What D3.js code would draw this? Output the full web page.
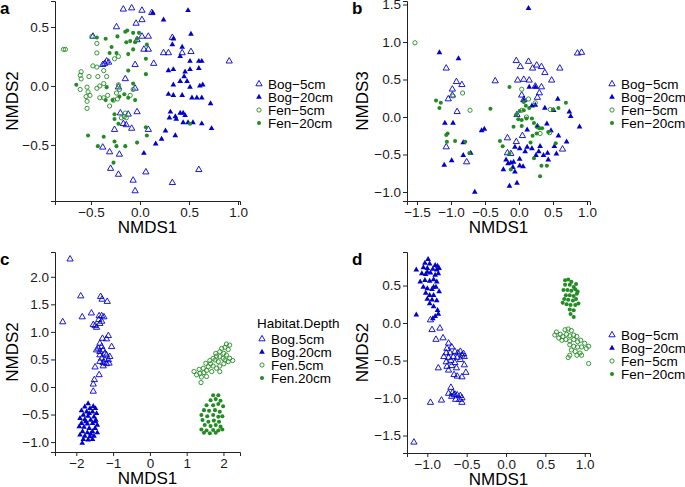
<!DOCTYPE html>
<html><head><meta charset="utf-8">
<script src="https://cdn.jsdelivr.net/npm/d3@7"></script>
<style>body{margin:0;background:#fff}svg{display:block;font-family:"Liberation Sans",Arial,sans-serif}</style>
</head><body><svg id="c" width="685" height="487"></svg>
<script>
// ---------- DATA ----------
const groupsDash = ["Bog\u22125cm","Bog\u221220cm","Fen\u22125cm","Fen\u221220cm"];
const groupsDot = ["Bog.5cm","Bog.20cm","Fen.5cm","Fen.20cm"];

// Panel a (NMDS1 vs NMDS2)
const aBog5 = [[-0.17,0.65],[-0.085,0.66],[0.02,0.64],[0.12,0.62],[-0.24,0.50],[-0.04,0.53],[0.02,0.56],[-0.48,0.42],[0.02,0.42],[0.085,0.42],[0.33,0.41],[0.24,0.28],[0.29,0.28],[0.43,0.28],[0.52,0.29],[-0.34,0.21],[-0.36,0.19],[-0.32,0.20],[-0.38,0.18],[0.14,0.19],[-0.05,0.18],[0.91,0.21],[-0.15,0.06],[-0.22,-0.01],[-0.05,-0.02],[-0.20,-0.23],[-0.12,-0.24],[-0.03,-0.22],[-0.17,-0.32],[-0.14,-0.33],[-0.085,-0.36],[0.085,-0.37],[-0.26,-0.37],[-0.38,-0.52],[-0.31,-0.56],[-0.21,-0.58],[-0.30,-0.70],[-0.22,-0.75],[0.06,-0.73],[-0.07,-0.80],[-0.05,-0.89],[0.33,-0.82],[0.60,-0.71],[0.04,0.31],[0.085,0.31],[-0.03,0.39]];
const aBog20 = [[0.13,0.62],[0.49,0.64],[0.24,0.56],[0.52,0.44],[0.34,0.40],[0.33,0.35],[0.43,0.33],[0.41,0.25],[0.51,0.21],[0.60,0.21],[0.63,0.21],[0.29,0.13],[0.34,0.14],[0.46,0.12],[0.51,0.14],[0.60,0.15],[0.45,0.08],[0.41,0.04],[0.48,0.04],[0.34,0.01],[0.64,0.01],[0.51,-0.01],[0.29,-0.07],[0.34,-0.08],[0.43,-0.08],[0.53,-0.10],[0.58,-0.10],[0.63,-0.10],[0.72,-0.15],[0.31,-0.22],[0.30,-0.27],[0.41,-0.23],[0.44,-0.23],[0.46,-0.25],[0.36,-0.26],[0.37,-0.28],[0.44,-0.31],[0.49,-0.31],[0.54,-0.31],[0.63,-0.32],[0.73,-0.36],[0.26,-0.38],[0.36,-0.42],[0.22,-0.45],[0.16,-0.49],[0.04,-0.57],[0.61,0.00]];
const aFen5 = [[-0.78,0.31],[-0.76,0.31],[-0.44,0.28],[-0.49,0.42],[-0.44,0.36],[-0.60,0.12],[-0.61,0.09],[-0.60,0.06],[-0.52,0.08],[-0.43,0.08],[-0.54,-0.01],[-0.61,-0.03],[-0.53,-0.05],[-0.51,-0.08],[-0.55,-0.09],[-0.54,-0.13],[-0.54,-0.19],[-0.44,-0.02],[-0.41,0.00],[-0.41,-0.10],[-0.37,-0.10],[-0.33,-0.08],[-0.31,-0.17],[-0.27,-0.12],[-0.23,-0.11],[-0.24,-0.06],[-0.21,-0.03],[-0.22,0.01],[-0.26,0.23],[-0.22,0.25],[-0.37,0.13],[-0.34,0.08],[-0.44,0.16],[-0.16,-0.26],[-0.19,-0.27],[-0.15,-0.23],[-0.07,-0.03],[-0.10,-0.08],[-0.48,0.17],[-0.37,0.02],[-0.14,-0.27]];
const aFen20 = [[-0.44,0.41],[-0.35,0.40],[-0.23,0.42],[-0.15,0.46],[-0.13,0.47],[-0.07,0.45],[-0.01,0.45],[-0.05,0.37],[-0.14,0.37],[-0.10,0.38],[-0.03,0.40],[0.07,0.35],[-0.29,0.33],[-0.31,0.28],[-0.24,0.28],[-0.12,0.27],[-0.07,0.31],[0.06,0.23],[-0.12,0.13],[0.06,0.10],[-0.65,0.01],[-0.34,-0.01],[-0.28,-0.12],[-0.21,-0.09],[-0.16,-0.07],[-0.12,-0.10],[-0.07,0.02],[-0.05,-0.12],[-0.35,-0.12],[-0.26,-0.24],[-0.26,-0.28],[-0.22,-0.32],[0.06,-0.35],[0.07,-0.42],[-0.03,-0.48],[-0.37,-0.43],[-0.53,-0.42],[-0.43,-0.51],[-0.26,-0.47],[-0.24,-0.51],[-0.15,-0.51],[-0.27,-0.65],[0.51,-0.32]];

// Panel b (NMDS1 vs NMDS3)
const bBog5 = [[-1.07,0.65],[-0.92,0.47],[-0.84,0.43],[-0.98,0.37],[-1.04,0.24],[-0.98,0.29],[-0.91,0.07],[-1.07,-0.40],[-0.77,-0.60],[-0.35,0.48],[-0.04,0.75],[0.02,0.67],[-0.02,0.49],[0.07,0.50],[0.14,0.74],[0.20,0.65],[0.15,0.49],[0.24,0.41],[0.33,0.40],[0.26,0.69],[0.33,0.67],[0.38,0.59],[0.48,0.49],[0.60,0.65],[0.04,0.29],[0.07,0.23],[0.30,0.32],[-0.03,0.03],[0.05,-0.25],[-0.17,-0.28],[-0.04,-0.33],[-0.17,-0.48],[-0.12,-0.49],[0.64,-0.43],[0.86,0.85],[0.92,0.86],[0.27,0.26]];
const bBog20 = [[-1.17,0.86],[-0.89,0.78],[-1.09,-0.08],[-0.97,-0.08],[-0.82,-0.34],[-0.71,-0.48],[-0.82,-0.51],[-0.99,-0.58],[-1.10,-0.64],[-0.65,-1.00],[-0.55,-0.18],[-0.51,-0.16],[0.14,1.45],[0.15,0.40],[0.24,0.40],[0.07,0.22],[0.19,0.15],[0.24,0.16],[0.38,0.12],[0.51,0.09],[0.57,0.24],[0.74,0.07],[0.76,0.01],[0.89,-0.13],[0.41,-0.09],[0.47,-0.18],[0.27,-0.12],[0.12,-0.17],[0.58,-0.25],[0.70,-0.33],[0.52,-0.39],[0.31,-0.39],[0.29,-0.46],[0.42,-0.48],[0.55,-0.49],[0.12,-0.40],[0.19,-0.42],[0.01,-0.42],[0.09,-0.46],[-0.06,-0.40],[-0.19,-0.57],[-0.16,-0.62],[-0.12,-0.61],[-0.08,-0.60],[0.01,-0.65],[0.06,-0.66],[-0.09,-0.67],[-0.23,-0.70],[-0.06,-0.73],[-0.14,-0.92],[-0.03,-0.88],[0.01,-0.56],[0.43,-0.57],[0.36,-0.51],[0.25,-0.51]];
const bFen5 = [[-1.53,0.99],[-0.97,0.28],[-0.83,0.32],[-0.72,0.09],[0.14,0.24],[0.24,0.19],[0.46,0.10],[0.27,-0.13],[0.45,-0.21],[0.04,0.37],[0.11,0.00],[0.31,-0.22],[0.04,0.09]];
const bFen20 = [[-1.22,0.22],[-1.15,0.19],[-1.17,0.12],[-1.05,-0.22],[-1.07,-0.24],[-1.06,-0.33],[-0.94,-0.32],[-0.79,-0.33],[-0.73,-0.48],[-0.42,0.11],[-0.14,0.40],[0.07,0.20],[0.10,0.15],[0.01,0.08],[0.07,0.09],[0.15,0.12],[-0.04,0.03],[-0.01,-0.03],[0.04,-0.04],[0.11,-0.02],[0.19,-0.02],[0.22,-0.08],[-0.08,-0.13],[0.04,-0.12],[0.30,-0.15],[0.34,-0.15],[0.20,-0.25],[0.26,-0.22],[0.43,-0.20],[0.50,0.10],[0.58,0.12],[0.69,0.19],[-0.28,-0.32],[-0.24,-0.39],[-0.14,-0.49],[-0.12,-0.70],[0.22,-0.55],[0.33,-0.65],[0.41,-0.65],[0.31,-0.79],[0.54,-0.35],[0.17,-0.34]];

// Panel c (NMDS1 vs NMDS2)
const cBog5 = [[-2.17,2.32],[-1.88,1.65],[-1.34,1.64],[-1.30,1.59],[-1.16,1.55],[-2.37,1.18],[-1.84,1.27],[-1.59,1.34],[-1.54,1.13],[-1.45,1.08],[-1.38,1.29],[-1.31,1.29],[-1.25,1.27],[-1.39,1.22],[-1.31,1.19],[-1.36,1.15],[-1.49,1.11],[-1.13,0.93],[-1.29,0.88],[-1.18,0.87],[-1.04,0.73],[-1.36,0.79],[-1.40,0.70],[-1.31,0.73],[-1.45,0.67],[-1.36,0.64],[-1.27,0.67],[-1.22,0.61],[-1.36,0.58],[-1.18,0.58],[-1.31,0.52],[-1.22,0.49],[-1.13,0.49],[-1.36,0.46],[-1.27,0.44],[-1.09,0.55],[-1.18,0.42],[-1.27,0.38],[-1.11,0.43],[-1.49,0.36],[-1.38,0.22],[-1.51,0.13],[-1.54,0.05],[-1.54,-0.08]];
const cBog20 = [[-1.68,-0.30],[-1.77,-0.36],[-1.54,-0.35],[-1.48,-0.39],[-1.63,-0.39],[-1.86,-0.43],[-1.72,-0.45],[-1.56,-0.45],[-1.45,-0.48],[-1.81,-0.51],[-1.68,-0.53],[-1.52,-0.54],[-1.90,-0.57],[-1.77,-0.59],[-1.61,-0.60],[-1.47,-0.60],[-1.86,-0.66],[-1.70,-0.67],[-1.56,-0.66],[-1.43,-0.69],[-1.92,-0.72],[-1.79,-0.73],[-1.65,-0.75],[-1.49,-0.75],[-1.83,-0.81],[-1.70,-0.83],[-1.56,-0.81],[-1.43,-0.83],[-1.90,-0.87],[-1.77,-0.89],[-1.63,-0.90],[-1.52,-0.89],[-1.81,-0.95],[-1.68,-0.96],[-1.56,-0.95],[-1.84,-1.02],[-1.61,-0.85],[-1.74,-0.63],[-1.49,-0.63],[-1.65,-0.48]];
const cFen5 = [[1.39,0.08],[1.20,0.28],[1.27,0.22],[1.36,0.25],[1.47,0.26],[1.54,0.30],[1.34,0.32],[1.45,0.34],[1.59,0.37],[1.65,0.42],[1.72,0.38],[1.52,0.43],[1.63,0.48],[1.77,0.49],[1.86,0.46],[1.72,0.52],[1.81,0.56],[1.90,0.55],[1.99,0.52],[1.79,0.61],[1.90,0.64],[2.01,0.61],[2.08,0.58],[1.95,0.70],[2.04,0.72],[2.13,0.68],[2.17,0.76],[2.08,0.78],[2.25,0.48],[2.13,0.46],[2.01,0.42],[1.90,0.38],[1.81,0.34],[2.04,0.49],[2.17,0.52],[1.54,0.19],[1.40,0.18],[1.68,0.28],[1.90,0.28]];
const cFen20 = [[1.72,-0.15],[1.86,-0.15],[1.65,-0.24],[1.79,-0.22],[1.92,-0.25],[1.54,-0.33],[1.72,-0.33],[1.86,-0.31],[1.99,-0.35],[1.47,-0.42],[1.61,-0.43],[1.77,-0.42],[1.90,-0.45],[1.40,-0.51],[1.56,-0.53],[1.72,-0.51],[1.86,-0.54],[1.97,-0.53],[1.43,-0.60],[1.59,-0.63],[1.74,-0.61],[1.88,-0.63],[1.49,-0.69],[1.65,-0.71],[1.79,-0.69],[1.92,-0.72],[1.40,-0.77],[1.54,-0.79],[1.72,-0.78],[1.86,-0.79],[1.97,-0.77],[1.47,-0.83],[1.63,-0.84],[1.79,-0.83]];

// Panel d (NMDS1 vs NMDS2)
const dBog5 = [[-0.96,0.04],[-0.94,-0.09],[-0.84,-0.07],[-0.89,-0.22],[-0.80,-0.20],[-1.17,-1.59],[-0.96,-1.06],[-0.82,-1.03],[-0.86,-0.60],[-0.73,-0.27],[-0.75,-0.34],[-0.69,-0.32],[-0.76,-0.40],[-0.71,-0.40],[-0.65,-0.38],[-0.61,-0.40],[-0.58,-0.38],[-0.54,-0.41],[-0.79,-0.45],[-0.73,-0.46],[-0.67,-0.45],[-0.62,-0.46],[-0.56,-0.43],[-0.53,-0.45],[-0.76,-0.52],[-0.70,-0.50],[-0.65,-0.53],[-0.58,-0.49],[-0.53,-0.56],[-0.75,-0.58],[-0.69,-0.57],[-0.63,-0.60],[-0.51,-0.66],[-0.66,-0.69],[-0.62,-0.71],[-0.56,-0.72],[-0.73,-0.63],[-0.70,-0.86],[-0.73,-0.94],[-0.68,-0.93],[-0.65,-0.95],[-0.62,-0.96],[-0.58,-0.97],[-0.56,-1.00],[-0.64,-1.02],[-0.59,-1.02],[-0.69,-0.98],[-0.66,-0.96],[-0.56,-1.06]];
const dBog20 = [[-1.14,0.71],[-1.14,0.11],[-0.99,0.85],[-1.03,0.80],[-0.97,0.79],[-0.90,0.77],[-0.87,0.76],[-1.05,0.74],[-1.00,0.73],[-0.93,0.72],[-0.88,0.71],[-0.85,0.73],[-1.07,0.66],[-1.02,0.65],[-0.96,0.67],[-0.90,0.64],[-0.86,0.66],[-1.09,0.55],[-1.03,0.57],[-0.97,0.56],[-0.92,0.58],[-0.88,0.55],[-1.05,0.48],[-1.00,0.46],[-0.94,0.45],[-0.89,0.48],[-0.85,0.42],[-1.02,0.40],[-0.97,0.37],[-0.92,0.37],[-1.00,0.32],[-0.94,0.31],[-0.88,0.30],[-0.97,0.26],[-0.92,0.22],[-0.87,0.17],[-0.90,0.09],[-0.86,0.12],[-0.93,0.06],[-1.00,0.68],[-0.92,0.48]];
const dFen5 = [[0.62,-0.16],[0.64,-0.12],[0.69,-0.15],[0.72,-0.18],[0.67,-0.20],[0.75,-0.09],[0.79,-0.08],[0.83,-0.10],[0.77,-0.15],[0.81,-0.17],[0.86,-0.16],[0.90,-0.18],[0.71,-0.23],[0.76,-0.22],[0.81,-0.24],[0.86,-0.22],[0.91,-0.25],[0.95,-0.23],[1.00,-0.27],[1.05,-0.31],[0.81,-0.29],[0.86,-0.31],[0.91,-0.32],[0.96,-0.32],[1.02,-0.34],[0.83,-0.36],[0.88,-0.38],[0.94,-0.40],[0.81,-0.43],[0.90,-0.43],[0.96,-0.43],[0.79,-0.46],[1.05,-0.54]];
const dFen20 = [[0.79,0.58],[0.83,0.55],[0.75,0.51],[0.81,0.51],[0.86,0.48],[0.89,0.52],[0.73,0.44],[0.78,0.44],[0.83,0.43],[0.88,0.45],[0.91,0.42],[0.76,0.37],[0.81,0.37],[0.86,0.36],[0.90,0.39],[0.74,0.32],[0.79,0.31],[0.85,0.30],[0.89,0.32],[0.77,0.25],[0.82,0.24],[0.88,0.24],[0.92,0.26],[0.81,0.18],[0.86,0.17],[0.82,0.12],[0.86,0.08],[0.75,0.57],[0.72,0.27]];

// Tick values
const aXTicks = [-0.5, 0, 0.5, 1.0], aYTicks = [-0.5, 0, 0.5];
const bXTicks = [-1.5, -1.0, -0.5, 0, 0.5, 1.0], bYTicks = [-1.0, -0.5, 0, 0.5, 1.0, 1.5];
const cXTicks = [-2, -1, 0, 1, 2], cYTicks = [-1.0, -0.5, 0, 0.5, 1.0, 1.5, 2.0];
const dXTicks = [-1.0, -0.5, 0, 0.5, 1.0], dYTicks = [-1.5, -1.0, -0.5, 0, 0.5];

// ---------- DRAW ----------
const svg = d3.select("#c");
const BLUE = "#0000CD", GREEN = "#228B22";
const styles = [
  {type: d3.symbolTriangle, size: 17, fill: "none", stroke: BLUE},
  {type: d3.symbolTriangle, size: 14, fill: BLUE, stroke: "none"},
  {type: d3.symbolCircle, size: 14, fill: "none", stroke: GREEN},
  {type: d3.symbolCircle, size: 13, fill: GREEN, stroke: "none"}
];

const panels = [
  {label: "a", box: [55, 240, 1, 201], xd: [-0.867, 1.02], yd: [-0.975, 0.72], xt: aXTicks, yt: aYTicks, xf: ".1f", yf: ".1f",
   ytitle: "NMDS2", ytx: 12, data: [aBog5, aBog20, aFen5, aFen20], legend: {x: 259, y: 84, names: groupsDash}},
  {label: "b", box: [407, 590, 1, 201], xd: [-1.647, 1.044], yd: [-1.12, 1.547], xt: bXTicks, yt: bYTicks, xf: ".1f", yf: ".1f",
   ytitle: "NMDS3", ytx: 362, data: [bBog5, bBog20, bFen5, bFen20], legend: {x: 612, y: 84, names: groupsDash}},
  {label: "c", box: [55, 240, 252, 452], xd: [-2.58, 2.45], yd: [-1.18, 2.45], xt: cXTicks, yt: cYTicks, xf: "d", yf: ".1f",
   ytitle: "NMDS2", ytx: 12, data: [cBog5, cBog20, cFen5, cFen20], legend: {x: 262, y: 339, names: groupsDot, title: "Habitat.Depth"}},
  {label: "d", box: [407, 590, 252, 453], xd: [-1.258, 1.067], yd: [-1.733, 0.947], xt: dXTicks, yt: dYTicks, xf: ".1f", yf: ".1f",
   ytitle: "NMDS2", ytx: 362, data: [dBog5, dBog20, dFen5, dFen20], legend: {x: 612, y: 335, names: groupsDash}}
];

panels.forEach(p => {
  const [l, r, t, b] = p.box;
  const x = d3.scaleLinear().domain(p.xd).range([l, r]);
  const y = d3.scaleLinear().domain(p.yd).range([b, t]);
  const g = svg.append("g");

  p.data.forEach((arr, gi) => {
    const s = styles[gi];
    const sym = d3.symbol().type(s.type).size(s.size);
    g.append("g").selectAll("path").data(arr).join("path")
      .attr("d", sym)
      .attr("transform", d => `translate(${x(d[0])},${y(d[1])})`)
      .attr("fill", s.fill).attr("stroke", s.stroke).attr("stroke-width", 0.9);
  });

  const xa = g.append("g").attr("transform", `translate(0,${b})`)
    .call(d3.axisBottom(x).tickValues(p.xt).tickFormat(d3.format(p.xf)).tickSizeOuter(0).tickSize(4).tickPadding(2));
  const ya = g.append("g").attr("transform", `translate(${l},0)`)
    .call(d3.axisLeft(y).tickValues(p.yt).tickFormat(d3.format(p.yf)).tickSizeOuter(0).tickSize(4).tickPadding(2));
  [xa, ya].forEach(a => {
    a.select(".domain").attr("stroke", "#222").attr("stroke-width", 1);
    a.selectAll(".tick line").attr("stroke", "#222").attr("stroke-width", 1);
    a.selectAll(".tick text").attr("fill", "#1a1a1a").style("font-size", "13.5px").style("font-family", "'Liberation Sans',Arial,sans-serif");
  });

  g.append("text").attr("x", (l + r) / 2).attr("y", b + 32).attr("text-anchor", "middle")
    .style("font-size", "17px").attr("fill", "#000").text("NMDS1");
  g.append("text").attr("transform", `translate(${p.ytx},${(t + b) / 2}) rotate(-90)`).attr("dy", "0.35em")
    .attr("text-anchor", "middle").style("font-size", "17px").attr("fill", "#000").text(p.ytitle);

  g.append("text").attr("x", p.label === "a" || p.label === "c" ? 0 : 352).attr("y", t + 13)
    .style("font-size", "17px").style("font-weight", "bold").text(p.label);

  const L = p.legend;
  if (L.title) {
    g.append("text").attr("x", L.x - 5).attr("y", L.y - 16).attr("dy", "0.35em")
      .style("font-size", "13.5px").text(L.title);
  }
  L.names.forEach((nm, i) => {
    const s = styles[i];
    const cy = L.y + i * 13;
    g.append("path").attr("d", d3.symbol().type(s.type).size(s.size)())
      .attr("transform", `translate(${L.x},${cy})`)
      .attr("fill", s.fill).attr("stroke", s.stroke).attr("stroke-width", 0.9);
    g.append("text").attr("x", L.x + 9).attr("y", cy).attr("dy", "0.35em")
      .style("font-size", "13.5px").text(nm);
  });
});
</script></body></html>
